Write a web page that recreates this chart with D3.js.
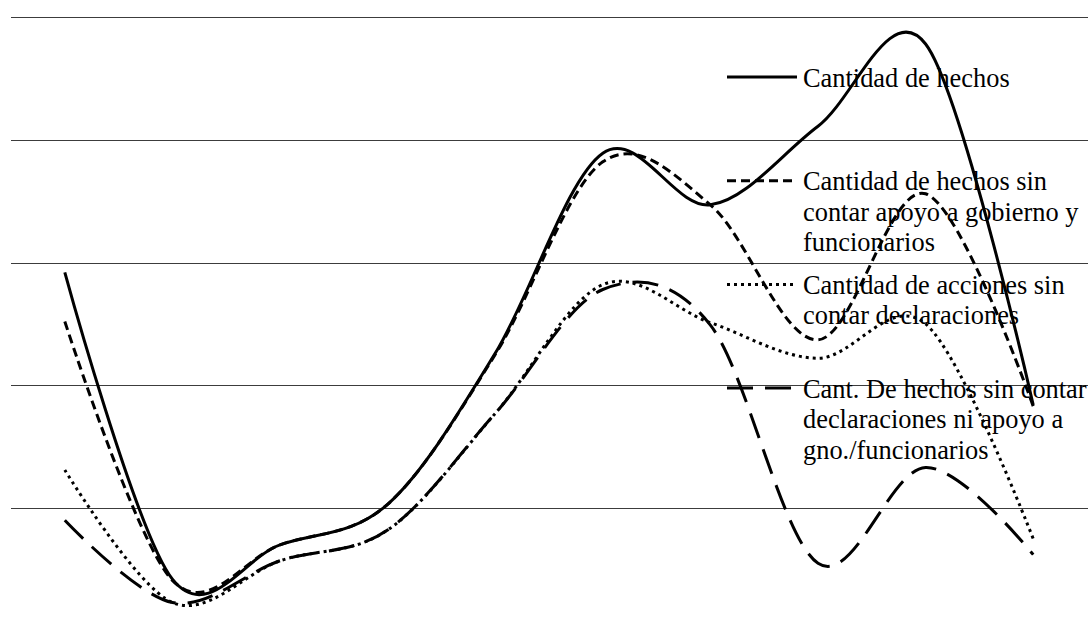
<!DOCTYPE html>
<html>
<head>
<meta charset="utf-8">
<script src="https://cdn.jsdelivr.net/npm/d3@7"></script>
<style>
  html, body { margin: 0; padding: 0; background: #fff; overflow: hidden; }
  svg { display: block; }
</style>
</head>
<body>
<script>
(function () {
  'use strict'
  const width = 1088
  const height = 626

  // periods (not labelled in the picture)
  const categories = ['1', '2', '3', '4', '5', '6', '7', '8', '9', '10']
  const gridTicks = [10, 20, 30, 40, 50]

  const hechos = [29.2, 4.2, 7.0, 10.3, 22.6, 38.9, 34.7, 41.1, 47.8, 18.4]
  const sinApoyo = [25.2, 4.1, 7.0, 10.3, 22.5, 38.2, 34.7, 23.7, 35.6, 18.3]
  const acciones = [13.1, 2.3, 5.7, 8.2, 17.7, 28.2, 25.1, 22.2, 25.0, 7.5]
  const sinDeclApoyo = [9.0, 2.3, 5.7, 8.2, 17.7, 27.8, 24.9, 5.5, 13.3, 6.2]

  const seriesNames = [
    ['Cantidad de hechos'],
    ['Cantidad de hechos sin', 'contar apoyo a gobierno y', 'funcionarios'],
    ['Cantidad de acciones sin', 'contar declaraciones'],
    ['Cant. De hechos sin contar', 'declaraciones ni apoyo a', 'gno./funcionarios']
  ]
  const dashes = [null, '9,5', '3,4', '26,12']

  const series = [hechos, sinApoyo, acciones, sinDeclApoyo].map((values, i) => ({
    name: seriesNames[i],
    dash: dashes[i],
    values: values.map((v, j) => ({cat: categories[j], value: v}))
  }))

  var plot = {left: 11, right: 1087, top: 17, bottom: 630.75}

  var x = d3.scaleBand().domain(categories).range([plot.left, plot.right])
  var y = d3.scaleLinear().domain([0, 50]).range([plot.bottom, plot.top])

  var svg = d3.select('body').append('svg')
    .attr('width', width)
    .attr('height', height)

  // horizontal grid
  svg.append('g')
    .attr('class', 'grid')
    .selectAll('line')
    .data(gridTicks)
    .enter().append('line')
    .attr('x1', plot.left)
    .attr('x2', width)
    .attr('y1', d => Math.round(y(d)) + 0.5)
    .attr('y2', d => Math.round(y(d)) + 0.5)
    .style('stroke', '#3c3c3c')
    .style('stroke-width', 1)

  // legend
  const legendX = 727
  const legendTop = 77
  const legendStep = 103.7
  const legend = svg.append('g')
    .selectAll('.legend')
    .data(series)
    .enter().append('g')
    .attr('class', 'legend')
    .attr('transform', (d, i) => `translate(${legendX}, ${legendTop + i * legendStep})`)
  legend.append('line')
    .attr('x1', 0)
    .attr('x2', 70)
    .attr('y1', 0)
    .attr('y2', 0)
    .style('stroke', '#000')
    .style('stroke-width', 3)
    .style('stroke-dasharray', d => d.dash)
  legend.append('text')
    .attr('x', 76)
    .attr('y', 9.5)
    .attr('font-family', '"Liberation Serif", "Times New Roman", serif')
    .attr('font-size', '26.4px')
    .attr('fill', '#000')
    .selectAll('tspan')
    .data(d => d.name)
    .enter().append('tspan')
    .attr('x', 76)
    .attr('dy', (d, i) => i === 0 ? 0 : 30.5)
    .text(d => d)

  // smoothed lines
  var line = d3.line()
    .x(d => x(d.cat) + x.bandwidth() / 2)
    .y(d => y(d.value))
    .curve(d3.curveCardinal.tension(0))

  svg.append('g')
    .selectAll('path')
    .data(series)
    .enter().append('path')
    .attr('d', d => line(d.values))
    .style('fill', 'none')
    .style('stroke', '#000')
    .style('stroke-width', 3)
    .style('stroke-dasharray', d => d.dash)
})()
</script>
</body>
</html>
